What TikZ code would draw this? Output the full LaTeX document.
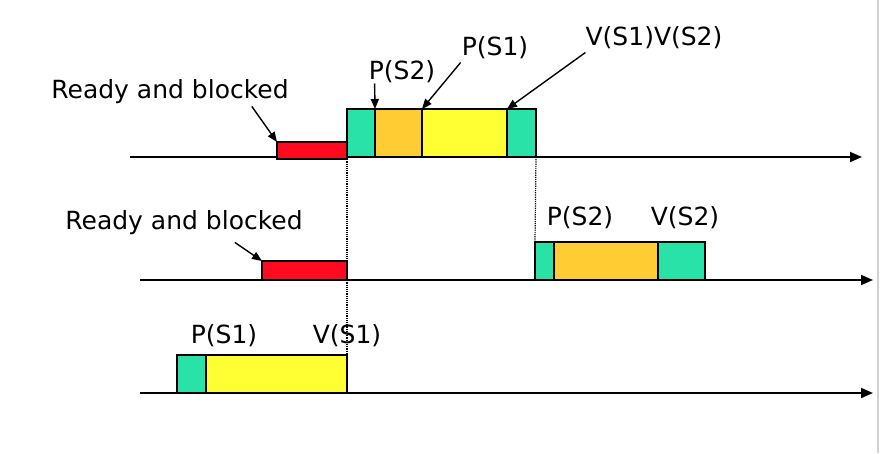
\documentclass[tikz,border=0pt]{standalone}
\usepackage{fontspec}
\setmainfont{DejaVu Sans}
\usetikzlibrary{positioning,arrows.meta}
\definecolor{mint}{RGB}{40,226,168}
\definecolor{amber}{RGB}{255,204,51}
\definecolor{lemon}{RGB}{255,255,51}
\definecolor{blood}{RGB}{255,10,30}
\tikzset{
  slot/.style={rectangle,draw=black,line width=1.4pt,inner sep=0pt,outer sep=0pt,anchor=south west},
  wait/.style={slot,fill=blood},
  crit/.style={slot,fill=mint},
  semb/.style={slot,fill=amber},
  sema/.style={slot,fill=lemon},
  lbl/.style={inner sep=0pt,anchor=base,font=\fontsize{25}{29}\selectfont},
  axis/.style={draw,line width=1.8pt,-{Triangle[length=12pt,width=10pt]}},
  line/.style={draw,line width=1.4pt,-{Triangle[length=10pt,width=8pt]}},
  link/.style={draw,densely dotted,line width=1.2pt}
}
\begin{document}
\begin{tikzpicture}[x=1pt,y=1pt]
    \useasboundingbox (0,0) rectangle (880,-453);
    \draw[gray!35,line width=1.5pt] (878,0) -- (878,-453);

    % time axes
    \coordinate (t1s) at (130,-157);
    \coordinate (t1e) at (862,-157);
    \coordinate (t2s) at (140,-280);
    \coordinate (t2e) at (873,-280);
    \coordinate (t3s) at (140,-393);
    \coordinate (t3e) at (873,-393);
    \path[axis] (t1s) -- (t1e);
    \path[axis] (t2s) -- (t2e);
    \path[axis] (t3s) -- (t3e);

    % first process
    \node[crit,minimum width=28pt,minimum height=48pt] (a1) at (347,-157) {};
    \node[semb,minimum width=47pt,minimum height=48pt,right=0pt of a1] (a2) {};
    \node[sema,minimum width=85pt,minimum height=48pt,right=0pt of a2] (a3) {};
    \node[crit,minimum width=29pt,minimum height=48pt,right=0pt of a3] (a4) {};
    \node[wait,minimum width=70pt,minimum height=17pt,anchor=south east] (w1) at (347,-159) {};

    % second process
    \node[crit,minimum width=19pt,minimum height=38pt] (b1) at (535,-280) {};
    \node[semb,minimum width=104pt,minimum height=38pt,right=0pt of b1] (b2) {};
    \node[crit,minimum width=47pt,minimum height=38pt,right=0pt of b2] (b3) {};
    \node[wait,minimum width=85pt,minimum height=19pt,anchor=south east] (w2) at (347,-280) {};

    % third process
    \node[crit,minimum width=29pt,minimum height=38pt] (c1) at (177,-393) {};
    \node[sema,minimum width=141pt,minimum height=38pt,right=0pt of c1] (c2) {};

    \path[link] (a1.south west) -- (c2.north east);
    \path[link] (a4.south east) -- (b1.north west);

    \node[lbl] (r1) at (170,-98) {Ready and blocked};
    \node[lbl] (r2) at (184,-229) {Ready and blocked};
    \node[lbl] (pa) at (402,-79) {P(S2)};
    \node[lbl] (pb) at (495,-55) {P(S1)};
    \node[lbl] (va) at (654,-45) {V(S1)V(S2)};
    \node[lbl] (pc) at (580,-225) {P(S2)};
    \node[lbl] (vc) at (685,-225) {V(S2)};
    \node[lbl] (pd) at (224,-343) {P(S1)};
    \node[lbl] (vd) at (347,-343) {V(S1)};

    \path[line] ([shift={(-37pt,-3pt)}]r1.south east) -- (w1.north west);
    \path[line] ([shift={(-68pt,-8pt)}]r2.south east) -- (w2.north west);
    \path[line] ([shift={(6pt,-1pt)}]pa.south west) -- (a2.north west);
    \path[line] ([shift={(-1pt,-4pt)}]pb.south west) -- (a3.north west);
    \path[line] ([shift={(0pt,-4pt)}]va.south west) -- (a4.north west);
\end{tikzpicture}
\end{document}
